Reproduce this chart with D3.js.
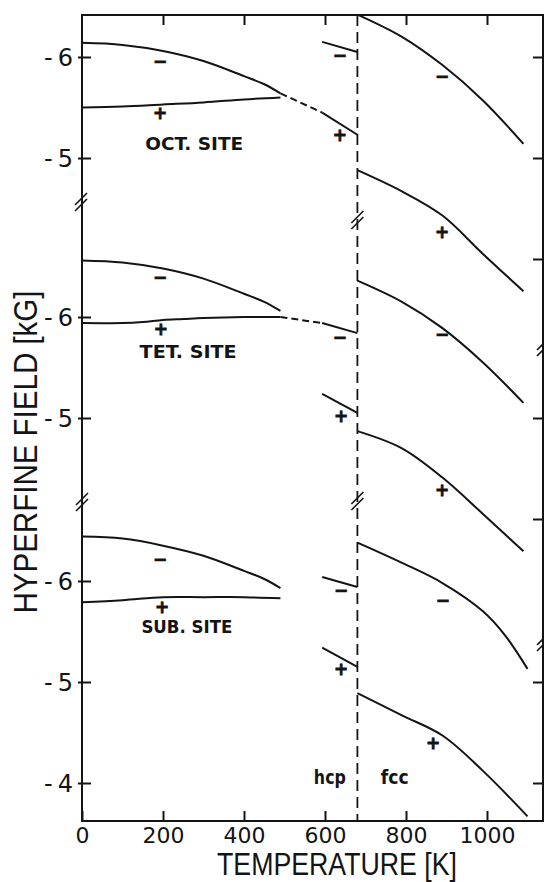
<!DOCTYPE html>
<html>
<head>
<meta charset="utf-8">
<script src="https://cdn.jsdelivr.net/npm/d3@7/dist/d3.min.js"></script>
<style>
  html, body { margin: 0; padding: 0; background: #fff; }
  svg { display: block; }
</style>
</head>
<body>
<svg id="chart" width="544" height="882"></svg>
<script>
// ---------------------------------------------------------------
// Temperature axis and phase boundary
// ---------------------------------------------------------------
const temperatureTicks = [0, 200, 400, 600, 800, 1000];
const transitionT = 680;               // hcp -> fcc

// Temperature grids (K)
const hcpGrid      = [0, 100, 200, 300, 400, 450, 490];
const hcpGridFlat  = [0, 100, 200, 300, 400, 490];
const tetPlusGrid  = [0, 100, 150, 200, 250, 300, 400, 490];
const extrapGrid   = [490, 593];
const hcpHighGrid  = [593, 680];
const fccGrid      = [680, 790, 890, 990, 1090];
const fccGridSub   = [680, 790, 890, 990, 1045, 1100];
const fccGridSubP  = [680, 790, 890, 990, 1100];

// ---------------------------------------------------------------
// Hyperfine field (kG) - octahedral site
// ---------------------------------------------------------------
const octMinusLow  = [-6.14, -6.12, -6.06, -5.96, -5.81, -5.73, -5.64];
const octPlusLow   = [-5.50, -5.51, -5.53, -5.55, -5.58, -5.60];
const octExtrap    = [-5.64, -5.45];
const octPlusHigh  = [-5.45, -5.23];
const octMinusHigh = [-6.15, -6.05];
const octMinusFcc  = [-6.42, -6.20, -5.92, -5.57, -5.14];
const octPlusFcc   = [-4.88, -4.67, -4.43, -4.05, -3.68];

// tetrahedral site
const tetMinusLow  = [-6.56, -6.54, -6.48, -6.38, -6.23, -6.15, -6.06];
const tetPlusLow   = [-5.94, -5.94, -5.95, -5.97, -5.98, -5.99, -6.00, -6.00];
const tetExtrap    = [-6.00, -5.94];
const tetMinusHigh = [-5.94, -5.84];
const tetPlusHigh  = [-5.24, -5.05];
const tetMinusFcc  = [-6.36, -6.15, -5.89, -5.55, -5.15];
const tetPlusFcc   = [-4.87, -4.70, -4.41, -4.05, -3.68];

// substitutional site
const subMinusLow  = [-6.44, -6.42, -6.35, -6.25, -6.10, -6.02, -5.93];
const subPlusLow   = [-5.79, -5.81, -5.84, -5.84, -5.84, -5.83];
const subMinusHigh = [-6.04, -5.94];
const subPlusHigh  = [-5.34, -5.15];
const subMinusFcc  = [-6.38, -6.18, -5.98, -5.70, -5.46, -5.13];
const subPlusFcc   = [-4.89, -4.67, -4.47, -4.12, -3.67];

// Field ticks on each side of every panel
const leftTicks  = { oct: [-6, -5], tet: [-6, -5], sub: [-6, -5, -4] };
const rightTicks = { oct: [-6, -5, -4], tet: [-5, -4], sub: [-5, -4] };

// Site names and sign markers (anchored in data units)
const siteLabels = [
  { panel: "oct", t: 277, v: -5.08, text: "OCT. SITE", len: 98 },
  { panel: "tet", t: 262, v: -5.59, text: "TET. SITE", len: 97 },
  { panel: "sub", t: 259, v: -5.49, text: "SUB. SITE", len: 91 }
];
const signMarks = [
  { panel: "oct", t: 193, v: -5.96, s: "\u2212" }, { panel: "oct", t: 193, v: -5.44, s: "+" },
  { panel: "oct", t: 637, v: -6.01, s: "\u2212" }, { panel: "oct", t: 637, v: -5.22, s: "+" },
  { panel: "oct", t: 889, v: -5.81, s: "\u2212" }, { panel: "oct", t: 889, v: -4.26, s: "+" },
  { panel: "tet", t: 193, v: -6.39, s: "\u2212" }, { panel: "tet", t: 195, v: -5.88, s: "+" },
  { panel: "tet", t: 637, v: -5.80, s: "\u2212" }, { panel: "tet", t: 640, v: -5.01, s: "+" },
  { panel: "tet", t: 889, v: -5.83, s: "\u2212" }, { panel: "tet", t: 889, v: -4.28, s: "+" },
  { panel: "sub", t: 193, v: -6.21, s: "\u2212" }, { panel: "sub", t: 198, v: -5.74, s: "+" },
  { panel: "sub", t: 640, v: -5.91, s: "\u2212" }, { panel: "sub", t: 640, v: -5.12, s: "+" },
  { panel: "sub", t: 891, v: -5.81, s: "\u2212" }, { panel: "sub", t: 867, v: -4.39, s: "+" }
];
const phaseLabels = [
  { panel: "sub", t: 612, v: -4.0, text: "hcp", len: 32 },
  { panel: "sub", t: 772, v: -4.0, text: "fcc", len: 28 }
];

// Curve list: panel, temperatures, fields, dashed?
const series = [
  ["oct", hcpGrid, octMinusLow, false], ["oct", hcpGridFlat, octPlusLow, false],
  ["oct", extrapGrid, octExtrap, true], ["oct", hcpHighGrid, octPlusHigh, false],
  ["oct", hcpHighGrid, octMinusHigh, false],
  ["oct", fccGrid, octMinusFcc, false], ["oct", fccGrid, octPlusFcc, false],
  ["tet", hcpGrid, tetMinusLow, false], ["tet", tetPlusGrid, tetPlusLow, false],
  ["tet", extrapGrid, tetExtrap, true], ["tet", hcpHighGrid, tetMinusHigh, false],
  ["tet", hcpHighGrid, tetPlusHigh, false],
  ["tet", fccGrid, tetMinusFcc, false], ["tet", fccGrid, tetPlusFcc, false],
  ["sub", hcpGrid, subMinusLow, false], ["sub", hcpGridFlat, subPlusLow, false],
  ["sub", hcpHighGrid, subMinusHigh, false], ["sub", hcpHighGrid, subPlusHigh, false],
  ["sub", fccGridSub, subMinusFcc, false], ["sub", fccGridSubP, subPlusFcc, false]
];

// ---------------------------------------------------------------
// Layout and scales
// ---------------------------------------------------------------
const INK = "#141414";
const frame = { left: 82, right: 543, top: 15, bottom: 821 };
const UNIT = 101;                               // px per kG
const panelTop = { oct: 57, tet: 317, sub: 581 }; // pixel row of -6 kG

const x = d3.scaleLinear().domain([0, 1000]).range([82, 487]);
const y = {};
for (const k of Object.keys(panelTop)) {
  y[k] = d3.scaleLinear().domain([-6, -5]).range([panelTop[k], panelTop[k] + UNIT]);
}

const svg = d3.select("#chart");
svg.append("rect").attr("width", 544).attr("height", 882).attr("fill", "#fff");

// frame
svg.append("rect")
  .attr("x", frame.left).attr("y", frame.top)
  .attr("width", frame.right - frame.left).attr("height", frame.bottom - frame.top)
  .attr("fill", "none").attr("stroke", INK).attr("stroke-width", 2);

// bottom axis with labels
svg.append("g").attr("class", "xbottom").attr("transform", `translate(0,${frame.bottom})`)
  .call(d3.axisBottom(x).tickValues(temperatureTicks).tickSizeInner(-10).tickSizeOuter(0)
        .tickPadding(6).tickFormat(d3.format("d")));
// top axis, ticks only
svg.append("g").attr("transform", `translate(0,${frame.top})`)
  .call(d3.axisTop(x).tickValues(temperatureTicks.slice(1)).tickSizeInner(-10).tickSizeOuter(0)
        .tickFormat(""));

// left & right field axes per panel
const fieldFormat = d => (d < 0 ? "-" : "") + Math.abs(d);
for (const k of Object.keys(panelTop)) {
  svg.append("g").attr("class", "yleft").attr("transform", `translate(${frame.left},0)`)
    .call(d3.axisLeft(y[k]).tickValues(leftTicks[k]).tickSizeInner(-9).tickSizeOuter(0)
          .tickPadding(4).tickFormat(fieldFormat));
  svg.append("g").attr("class", "yright").attr("transform", `translate(${frame.right},0)`)
    .call(d3.axisRight(y[k]).tickValues(rightTicks[k]).tickSizeInner(-10).tickSizeOuter(0)
          .tickFormat(""));
}

svg.selectAll(".domain").remove();
svg.selectAll(".tick line").attr("stroke", INK).attr("stroke-width", 2);
// left ticks poke slightly outside the axis
svg.selectAll(".yleft .tick line").attr("x1", -4);
svg.selectAll(".tick text")
  .attr("fill", INK)
  .style("font-family", "'DejaVu Sans', sans-serif")
  .style("font-size", "24px");
svg.selectAll(".xbottom .tick text").style("font-size", "22px");
svg.selectAll(".yleft .tick text").style("letter-spacing", "5px").attr("dy", "0.36em");

// phase boundary
svg.append("line")
  .attr("x1", x(transitionT)).attr("x2", x(transitionT))
  .attr("y1", frame.top).attr("y2", frame.bottom)
  .attr("stroke", INK).attr("stroke-width", 1.8).attr("stroke-dasharray", "11,6");

// axis-break marks
function breakMark(cx, cy) {
  const g = svg.append("g");
  for (const o of [-3, 3]) {
    g.append("line")
      .attr("x1", cx - 6).attr("y1", cy + 6 + o)
      .attr("x2", cx + 6).attr("y2", cy - 6 + o)
      .attr("stroke", INK).attr("stroke-width", 1.6);
  }
}
[[frame.left - 1, 202], [frame.left, 502],
 [x(transitionT), 220], [x(transitionT), 501],
 [frame.right, 347], [frame.right, 642]].forEach(([cx, cy]) => breakMark(cx, cy));

// curves
const line = k => d3.line().x(d => x(d[0])).y(d => y[k](d[1])).curve(d3.curveCatmullRom.alpha(0.5));
for (const [k, ts, vs, dashed] of series) {
  svg.append("path")
    .datum(ts.map((t, i) => [t, vs[i]]))
    .attr("d", line(k))
    .attr("fill", "none").attr("stroke", INK).attr("stroke-width", 2)
    .attr("stroke-dasharray", dashed ? "7,4" : null);
}

// sign markers
svg.selectAll(".sign").data(signMarks).join("text")
  .attr("x", d => x(d.t)).attr("y", d => y[d.panel](d.v) + 5.5)
  .attr("text-anchor", "middle")
  .attr("fill", INK).attr("stroke", INK).attr("stroke-width", 0.8)
  .style("font-family", "'DejaVu Sans', sans-serif")
  .style("font-weight", "bold").style("font-size", "17px")
  .text(d => d.s);

// site names
svg.selectAll(".site").data(siteLabels).join("text")
  .attr("x", d => x(d.t)).attr("y", d => y[d.panel](d.v))
  .attr("text-anchor", "middle")
  .attr("textLength", d => d.len).attr("lengthAdjust", "spacingAndGlyphs")
  .attr("fill", INK)
  .style("font-family", "'DejaVu Sans', sans-serif")
  .style("font-weight", "bold").style("font-size", "17px")
  .text(d => d.text);

// phase names
svg.selectAll(".phase").data(phaseLabels).join("text")
  .attr("x", d => x(d.t)).attr("y", d => y[d.panel](d.v) + 1)
  .attr("text-anchor", "middle")
  .attr("textLength", d => d.len).attr("lengthAdjust", "spacingAndGlyphs")
  .attr("fill", INK)
  .style("font-family", "'DejaVu Sans', sans-serif")
  .style("font-weight", "bold").style("font-size", "19px")
  .text(d => d.text);

// axis titles
svg.append("text")
  .attr("x", 337).attr("y", 875)
  .attr("text-anchor", "middle")
  .attr("textLength", 240).attr("lengthAdjust", "spacingAndGlyphs")
  .attr("fill", INK)
  .style("font-family", "'Liberation Sans', Arial, sans-serif")
  .style("font-size", "31px")
  .text("TEMPERATURE [K]");

svg.append("text")
  .attr("transform", "translate(37,452) rotate(-90)")
  .attr("text-anchor", "middle")
  .attr("textLength", 323).attr("lengthAdjust", "spacingAndGlyphs")
  .attr("fill", INK)
  .style("font-family", "'Liberation Sans', Arial, sans-serif")
  .style("font-size", "33px")
  .text("HYPERFINE FIELD [kG]");
</script>
</body>
</html>
